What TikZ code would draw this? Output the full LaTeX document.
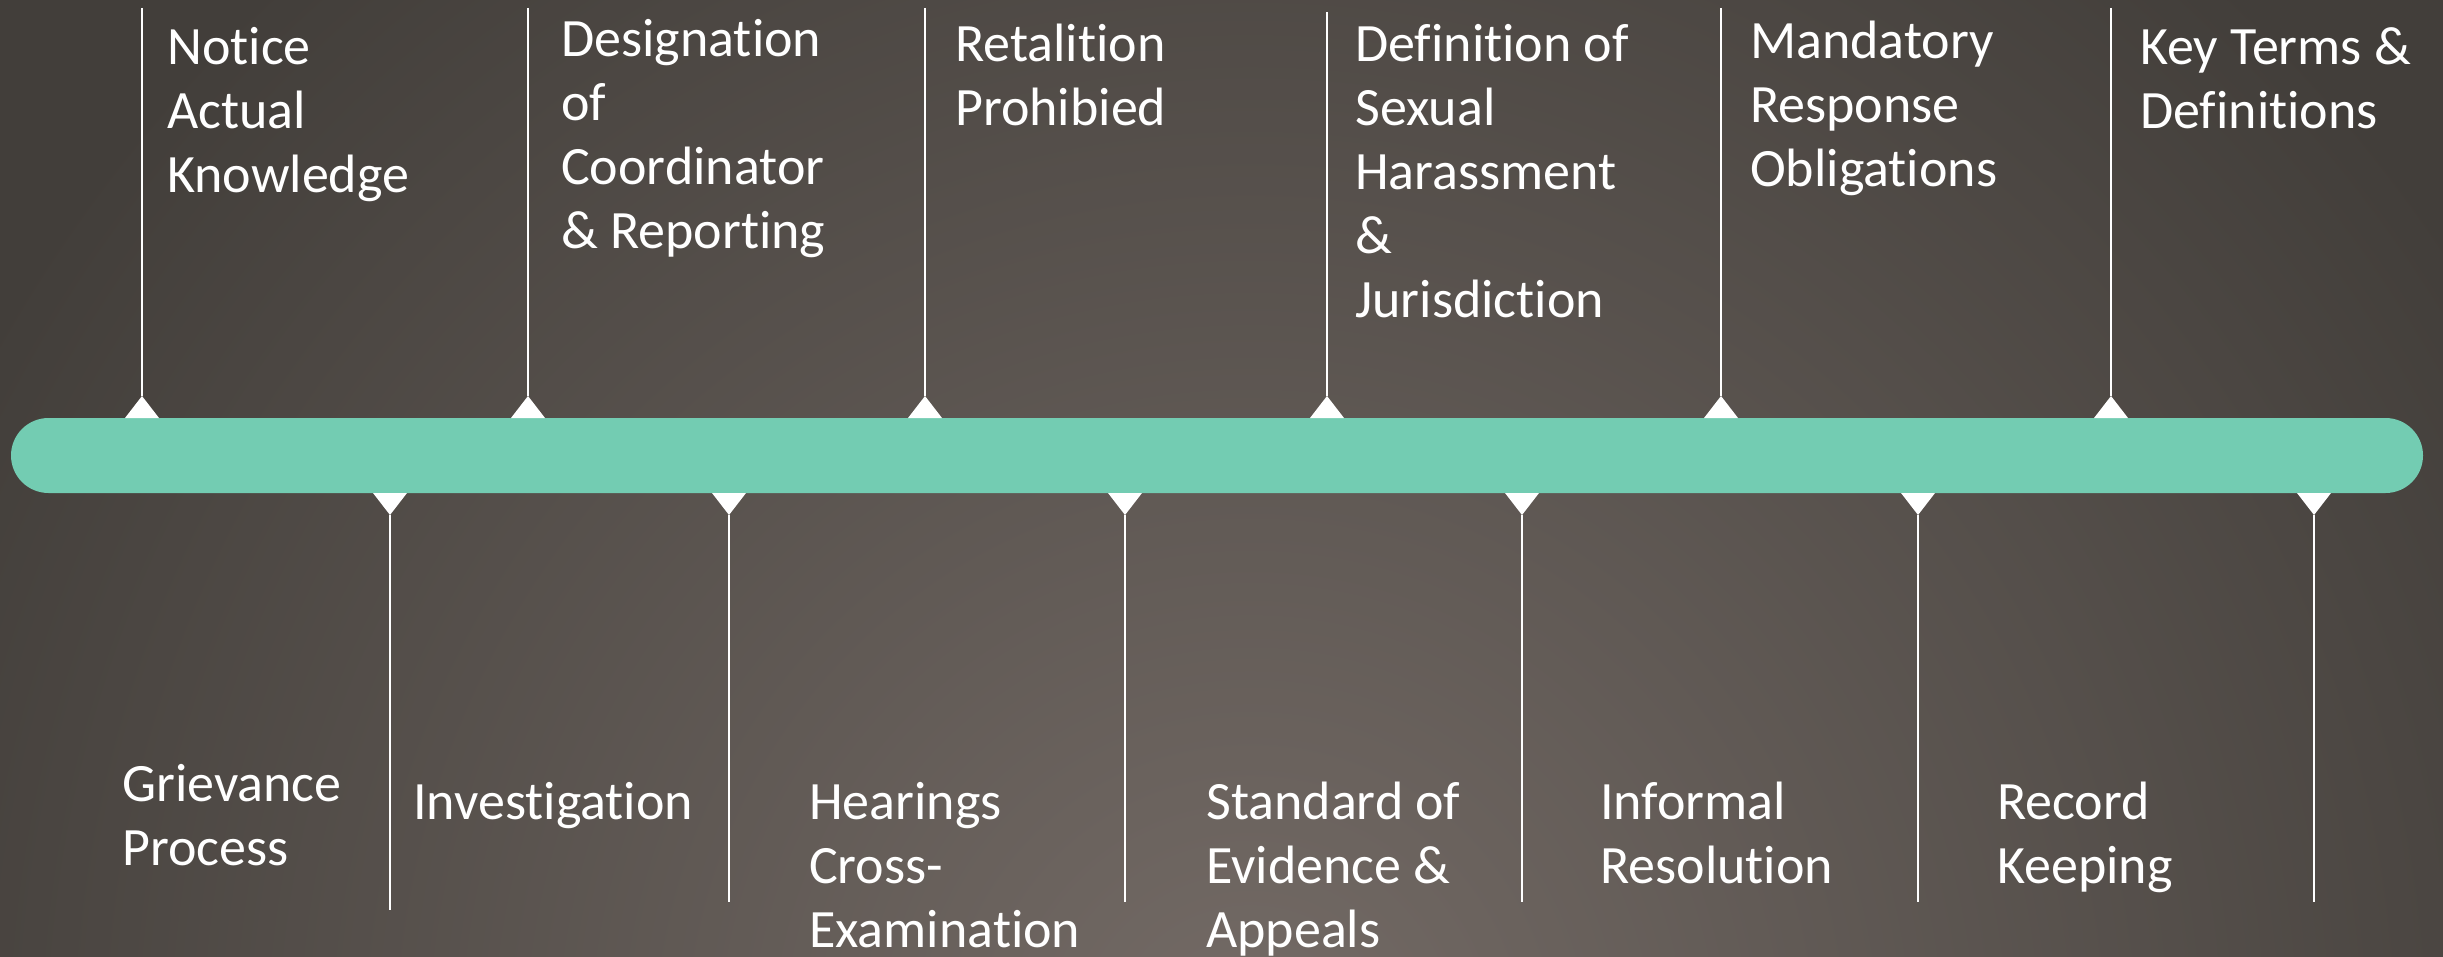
\documentclass[tikz,border=0pt]{standalone}
\usepackage{fontspec}
\setmainfont{Carlito}[Ligatures=NoCommon]
\usetikzlibrary{calc}
\begin{document}
\begin{tikzpicture}[x=1pt,y=-1pt,
  lbl/.style={anchor=north west,inner sep=0pt,align=left,text=white,
    font=\fontsize{54}{64}\selectfont},
  stem/.style={draw=white,line width=2pt},
  tipmark/.style={fill=white}]
\definecolor{bgout}{RGB}{66,62,58}
\definecolor{bgin}{RGB}{116,107,102}
\definecolor{barc}{RGB}{115,204,178}
% background
\useasboundingbox (0,0) rectangle (2443,957);
\begin{scope}
\clip (0,0) rectangle (2443,957);
\fill[bgout] (0,0) rectangle (2443,957);
\shade[inner color=bgin,outer color=bgout] (1250,1050) circle (1450);
\end{scope}
% bar
\fill[barc,rounded corners=37.5pt] (11,418) rectangle (2423,493);
% upper markers
\foreach \n/\x/\t in {u1/142/8,u2/528/8,u3/925/8,u4/1327/12,u5/1721/8,u6/2111/8}{
  \coordinate (\n b) at (\x,418);
  \coordinate (\n a) at (\x,396);
  \coordinate (\n t) at (\x,\t);
  \fill[tipmark] ($(\n b)+(-17,0)$) -- ($(\n b)+(17,0)$) -- (\n a) -- cycle;
  \draw[stem] (\n t) -- (\n a);
}
% lower markers
\foreach \n/\x/\t in {d1/390/910,d2/729/902,d3/1125/902,d4/1522/902,d5/1918/902,d6/2314/902}{
  \coordinate (\n b) at (\x,493);
  \coordinate (\n a) at (\x,515);
  \coordinate (\n t) at (\x,\t);
  \fill[tipmark] ($(\n b)+(-17,0)$) -- ($(\n b)+(17,0)$) -- (\n a) -- cycle;
  \draw[stem] (\n a) -- (\n t);
}
% upper labels
\node[lbl] (t1) at (167,27) {Notice\\Actual\\Knowledge};
\node[lbl] (t2) at (561,19) {Designation\\of\\Coordinator\\\& Reporting};
\node[lbl] (t3) at (955,24) {Retalition\\Prohibied};
\node[lbl] (t4) at (1355,24) {Definition of\\Sexual\\Harassment\\\&\\Jurisdiction};
\node[lbl] (t5) at (1750,21) {Mandatory\\Response\\Obligations};
\node[lbl] (t6) at (2140,27) {Key Terms \&\\Definitions};
% lower labels
\node[lbl] (b1) at (122,764) {Grievance\\Process};
\node[lbl] (b2) at (413,782) {Investigation};
\node[lbl] (b3) at (809,782) {Hearings\\Cross-\\Examination};
\node[lbl] (b4) at (1206,782) {Standard of\\Evidence \&\\Appeals};
\node[lbl] (b5) at (1600,782) {Informal\\Resolution};
\node[lbl] (b6) at (1997,782) {Record\\Keeping};
\end{tikzpicture}
\end{document}
